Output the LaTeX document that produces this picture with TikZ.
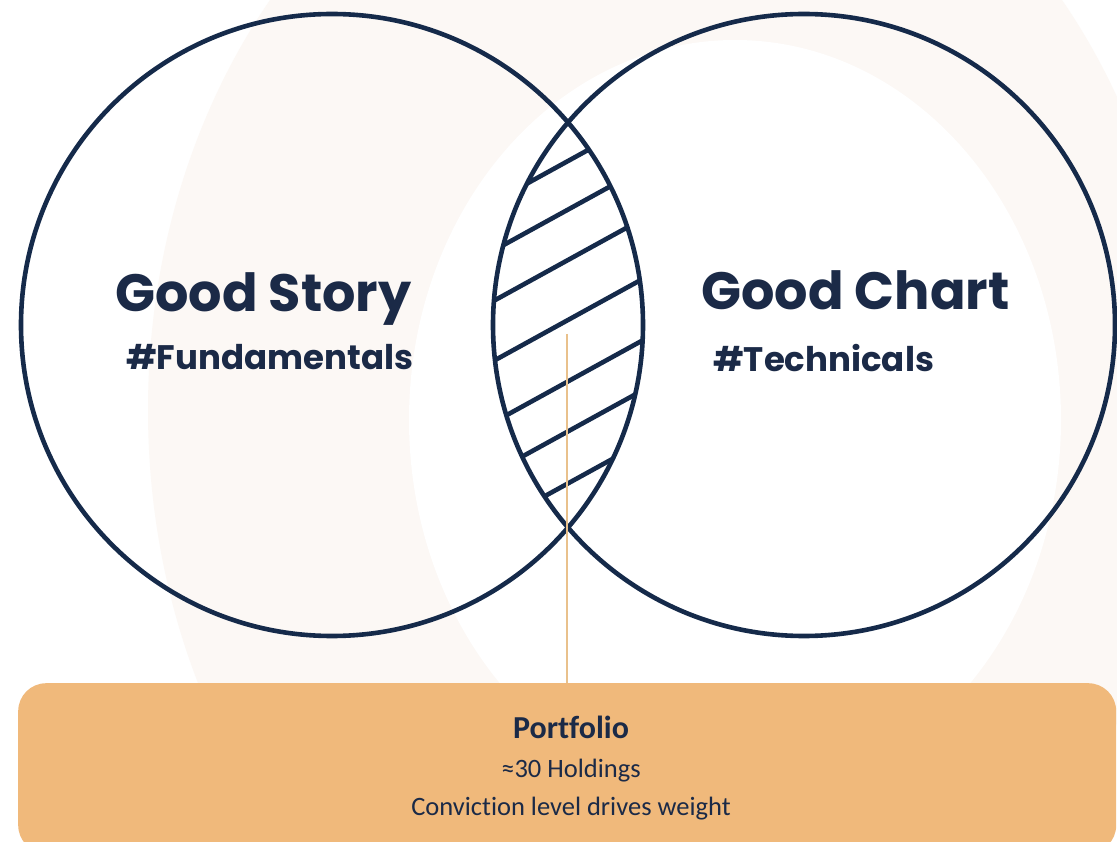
\documentclass[tikz,border=0pt]{standalone}
\usepackage{fontspec}
\newfontfamily\popfont{Poppins}
\newfontfamily\calfont[Ligatures=NoCommon]{Carlito}
\definecolor{navy}{RGB}{21,42,74}
\definecolor{cream}{RGB}{252,248,245}
\definecolor{boxorange}{RGB}{240,185,123}
\definecolor{tanline}{RGB}{233,193,140}
\definecolor{textnavy}{RGB}{27,42,71}
\begin{document}
\begin{tikzpicture}[x=1pt,y=-1pt,
  venn/.style={circle, draw=navy, line width=4.6pt, minimum size=622pt, inner sep=0pt},
  hatchline/.style={navy, line width=4.6pt},
  bigtitle/.style={font=\popfont\bfseries\fontsize{52.5}{60}\selectfont, text=textnavy, anchor=base west, inner sep=0pt},
  tagline/.style={font=\popfont\bfseries\fontsize{34}{40}\selectfont, text=textnavy, anchor=base west, inner sep=0pt},
  boxtitle/.style={font=\calfont\bfseries\fontsize{32}{36}\selectfont, text=textnavy, anchor=base, inner sep=0pt},
  boxtext/.style={font=\calfont\fontsize{26.5}{30}\selectfont, text=textnavy, anchor=base, inner sep=0pt},
  connector/.style={tanline, line width=1.5pt}]
\useasboundingbox (0,0) rectangle (1117,842);
\fill[white] (0,0) rectangle (1117,842);
\begin{scope}
  \clip (0,0) rectangle (1117,842);
  \fill[cream] (666,410) ellipse [x radius=518pt, y radius=636pt];
  \fill[white] (735,420) ellipse [x radius=326pt, y radius=380pt];
\end{scope}
% hatching in the lens
\begin{scope}
  \clip (332,325) circle [radius=311pt];
  \clip (804,325) circle [radius=311pt];
  \foreach \yy in {161,209.6,260,320,381.4,431.4,483.4}
    \draw[hatchline] (448,\yy+66) -- (688,\yy-66);
\end{scope}
\node[venn] (story) at (332,325) {};
\node[venn] (chart) at (804,325) {};
\node[bigtitle] (storytitle) at (115,312) {Good Story};
\node[tagline] (storytag) at (126,370) {\#Fundamentals};
\node[bigtitle] (charttitle) at (701,310) {Good Chart};
\node[tagline] (charttag) at (713,372) {\#Technicals};
\node[fill=boxorange, rounded corners=28pt, minimum width=1098pt, minimum height=170pt, anchor=north west, inner sep=0pt] (portfolio) at (18,683) {};
\coordinate (conntop) at (567,334);
\draw[connector] (conntop) -- (conntop |- portfolio.north);
\node[boxtitle] (ptitle) at (571,738) {Portfolio};
\node[boxtext] (pholdings) at (571,777) {≈30 Holdings};
\node[boxtext] (pconv) at (571,815) {Conviction level drives weight};
\end{tikzpicture}
\end{document}
